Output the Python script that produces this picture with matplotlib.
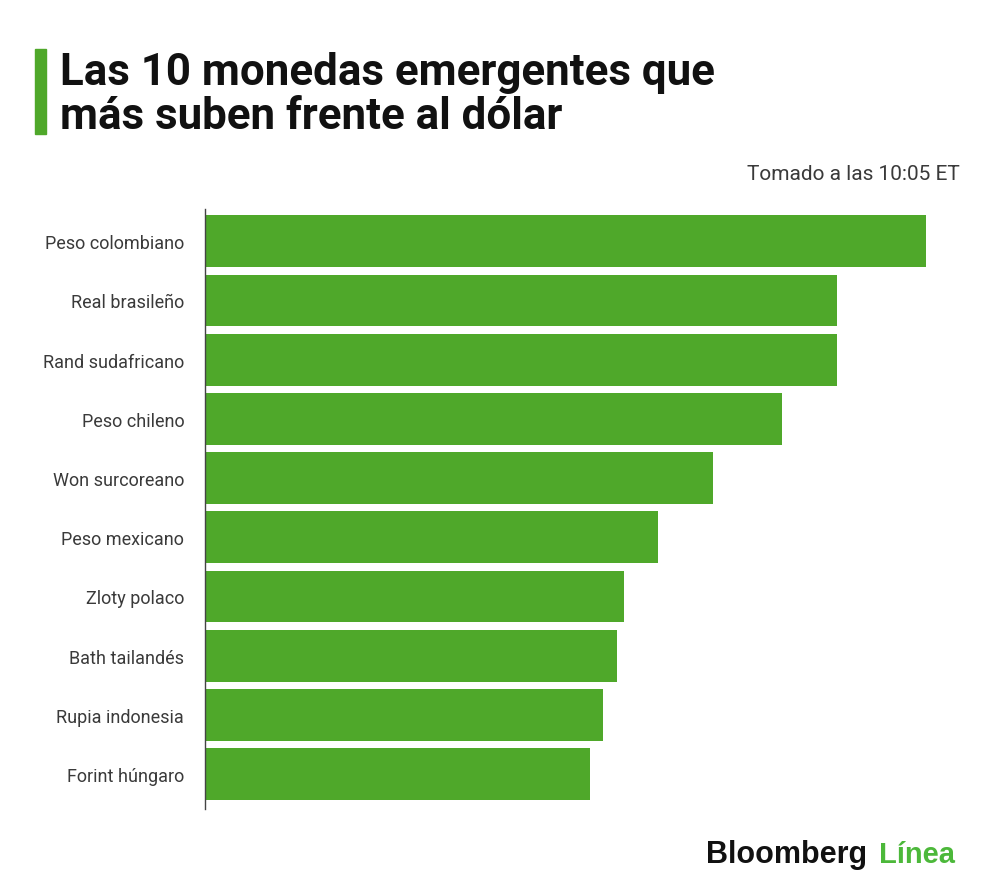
import matplotlib.pyplot as plt
from matplotlib.patches import Rectangle

# datos (longitudes relativas)
monedas = ["Peso colombiano", "Real brasileño", "Rand sudafricano", "Peso chileno",
           "Won surcoreano", "Peso mexicano", "Zloty polaco", "Bath tailandés",
           "Rupia indonesia", "Forint húngaro"]
valores = [7.21, 6.32, 6.32, 5.77, 5.08, 4.53, 4.19, 4.12, 3.98, 3.85]

verde = "#4fa82a"

plt.rcParams['font.family'] = ['Roboto', 'DejaVu Sans']

fig = plt.figure(figsize=(10, 8.95), dpi=100)
ax = fig.add_axes([0.205, 0.095, 0.721, 0.67])

pos = list(range(len(monedas)))
ax.barh(pos, valores, height=0.877, color=verde)
ax.set_xlim(0, max(valores))
ax.set_ylim(9.59, -0.54)

ax.set_yticks(pos)
ax.set_yticklabels(monedas, fontsize=13, color="#3a3a3a")
ax.tick_params(axis='y', length=0, pad=15)
ax.set_xticks([])
for s in ["top", "right", "bottom"]:
    ax.spines[s].set_visible(False)
ax.spines["left"].set_color("#444444")
ax.spines["left"].set_linewidth(1.0)

# titulo
fig.patches.append(Rectangle((0.035, 1 - 135 / 895), 0.011, 85 / 895,
                             transform=fig.transFigure, color=verde))
fig.text(0.06, 1 - 73 / 895, "Las 10 monedas emergentes que",
         fontsize=31.6, fontweight="bold", color="#111111", va="center")
fig.text(0.06, 1 - 117 / 895, "más suben frente al dólar",
         fontsize=31.6, fontweight="bold", color="#111111", va="center")

fig.text(0.96, 1 - 175 / 895, "Tomado a las 10:05 ET",
         fontsize=15, color="#3a3a3a", ha="right", va="center")

# logo
fig.text(0.867, 1 - 855 / 895, "Bloomberg", fontsize=22, fontweight="bold",
         color="#111111", ha="right", va="center", family="Liberation Sans")
fig.text(0.955, 1 - 855 / 895, "Línea", fontsize=21, fontweight="bold",
         color="#4cb83a", ha="right", va="center", family="Liberation Sans")

fig.savefig("out.png", dpi=100, facecolor="white")
